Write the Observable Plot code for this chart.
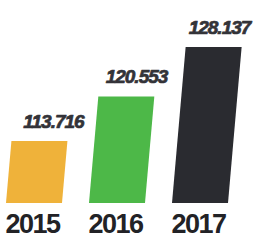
<!DOCTYPE html>
<html>
<head>
<meta charset="utf-8">
<script src="https://cdn.jsdelivr.net/npm/d3@7"></script>
<script src="https://cdn.jsdelivr.net/npm/@observablehq/plot@0.6"></script>
<style>
  html, body { margin: 0; padding: 0; background: #fff; }
  svg { display: block; overflow: visible; }
  g[aria-label="bar"] rect {
    transform-box: fill-box;
    transform-origin: 50% 100%;
    transform: skewX(-5deg);
  }
  g[aria-label="x-axis tick label"] text { letter-spacing: -1.5px; }
  g[aria-label="text"] text { letter-spacing: -1px; }
</style>
</head>
<body>
<div id="chart"></div>
<script>
const years = ["2015", "2016", "2017"];
const values = [113.716, 120.553, 128.137];
const labels = ["113.716", "120.553", "128.137"];
const colors = ["#EFB23A", "#4DB848", "#2A2B30"];
const baseValue = 104.2;

const data = years.map((y, i) => ({year: y, value: values[i], label: labels[i], color: colors[i]}));

const chart = Plot.plot({
  width: 269,
  height: 242,
  marginTop: 20,
  marginBottom: 39,
  marginLeft: 0,
  marginRight: 35,
  style: {background: "#fff", fontFamily: "Liberation Sans, Arial, sans-serif"},
  x: {domain: years, paddingInner: 0.33, paddingOuter: 0.058, label: null},
  y: {domain: [baseValue, 132.3], axis: null},
  marks: [
    Plot.barY(data, {x: "year", y1: baseValue, y2: "value", fill: "color"}),
    Plot.text(data, {
      x: "year", y: "value", text: "label",
      dx: 19, dy: -14, lineAnchor: "bottom",
      fontSize: 19, fontWeight: "bold", fontStyle: "italic",
      fill: "#333338", stroke: "#333338", strokeWidth: 0.7
    }),
    Plot.axisX({
      tickSize: 0, tickPadding: 10, fontSize: 27, fontWeight: "bold",
      dx: -2, color: "#222226", label: null
    })
  ]
});
document.getElementById("chart").appendChild(chart);
</script>
</body>
</html>
